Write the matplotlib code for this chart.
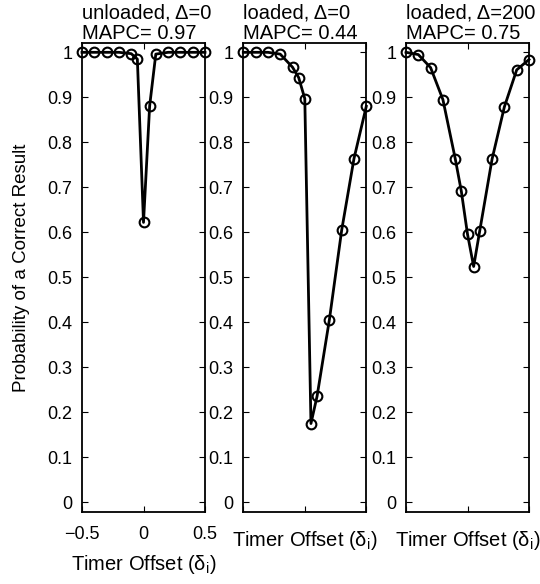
import matplotlib
matplotlib.use('Agg')
import matplotlib.pyplot as plt
import numpy as np

plt.rcParams['font.family'] = ['Liberation Sans', 'DejaVu Sans']
plt.rcParams['mathtext.fontset'] = 'custom'
plt.rcParams['mathtext.rm'] = 'Liberation Sans'
plt.rcParams['mathtext.it'] = 'Liberation Sans:italic'

# ---- data ----
offsets = [-0.5, -0.4, -0.3, -0.2, -0.1, -0.05, 0.0, 0.05, 0.1, 0.2, 0.3, 0.4, 0.5]
unloaded_d0 = [1.0, 1.0, 1.0, 1.0, 0.997, 0.985, 0.622, 0.881, 0.996, 1.0, 1.0, 1.0, 1.0]
loaded_d0 = [1.0, 1.0, 1.0, 0.996, 0.967, 0.944, 0.897, 0.175, 0.236, 0.406, 0.605, 0.764, 0.880]
loaded_d200 = [1.0, 0.995, 0.966, 0.895, 0.764, 0.691, 0.596, 0.524, 0.604, 0.763, 0.879, 0.961, 0.984]
series = [unloaded_d0, loaded_d0, loaded_d200]
titles = ['unloaded, \u0394=0\nMAPC= 0.97',
          'loaded, \u0394=0\nMAPC= 0.44',
          'loaded, \u0394=200\nMAPC= 0.75']
yticks = [0, 0.1, 0.2, 0.3, 0.4, 0.5, 0.6, 0.7, 0.8, 0.9, 1.0]
ytick_labels = ['0', '0.1', '0.2', '0.3', '0.4', '0.5', '0.6', '0.7', '0.8', '0.9', '1']
xticks = [-0.5, 0, 0.5]
xtick_labels = ['\u22120.5', '0', '0.5']
xlabel = 'Timer Offset (\u03b4$_\\mathregular{i}$)'
ylabel = 'Probability of a Correct Result'

fig = plt.figure(figsize=(5.4, 5.84), dpi=100)
W, H = 540, 584
lefts = [82, 243.3, 406]
ax_w = 123
ax_top = 43
ax_bot = 511.7

axes = []
for i, left in enumerate(lefts):
    ax = fig.add_axes([left / W, (H - ax_bot) / H, ax_w / W, (ax_bot - ax_top) / H])
    axes.append(ax)
    ax.plot(offsets, series[i], '-o', color='k', lw=2, ms=7, mfc='none',
            mec='k', mew=1.5, clip_on=False, zorder=3)
    ax.set_xlim(-0.5, 0.5)
    ax.set_ylim(-0.0209, 1.0207)
    ax.set_yticks(yticks)
    ax.set_yticklabels(ytick_labels)
    ax.set_xticks(xticks)
    if i == 0:
        ax.set_xticklabels(xtick_labels)
    else:
        ax.set_xticklabels([])
    ax.tick_params(direction='in', length=4.2, width=0.8, top=True, right=True,
                   labelsize=13, colors='k')
    ax.tick_params(axis='y', pad=7)
    ax.tick_params(axis='x', pad=10)
    for sp in ax.spines.values():
        sp.set_linewidth(1.3)
        sp.set_color('k')
    ax.set_title(titles[i], loc='left', fontsize=14.5, pad=2.7, linespacing=1.14)
    ax.set_xlabel(xlabel, fontsize=14.5)
    lab = ax.xaxis.get_label()
    lab.set_va('baseline')
    if i == 0:
        ax.xaxis.set_label_coords(0.5, (ax_bot - 570) / (ax_bot - ax_top))
    else:
        ax.xaxis.set_label_coords(0.5, (ax_bot - 546) / (ax_bot - ax_top))

axes[0].set_ylabel(ylabel, fontsize=13.5)
axes[0].yaxis.set_label_coords((30.5 - 82) / ax_w, (ax_bot - 267.5) / (ax_bot - ax_top))

fig.savefig('out.png', dpi=100, facecolor='white')
